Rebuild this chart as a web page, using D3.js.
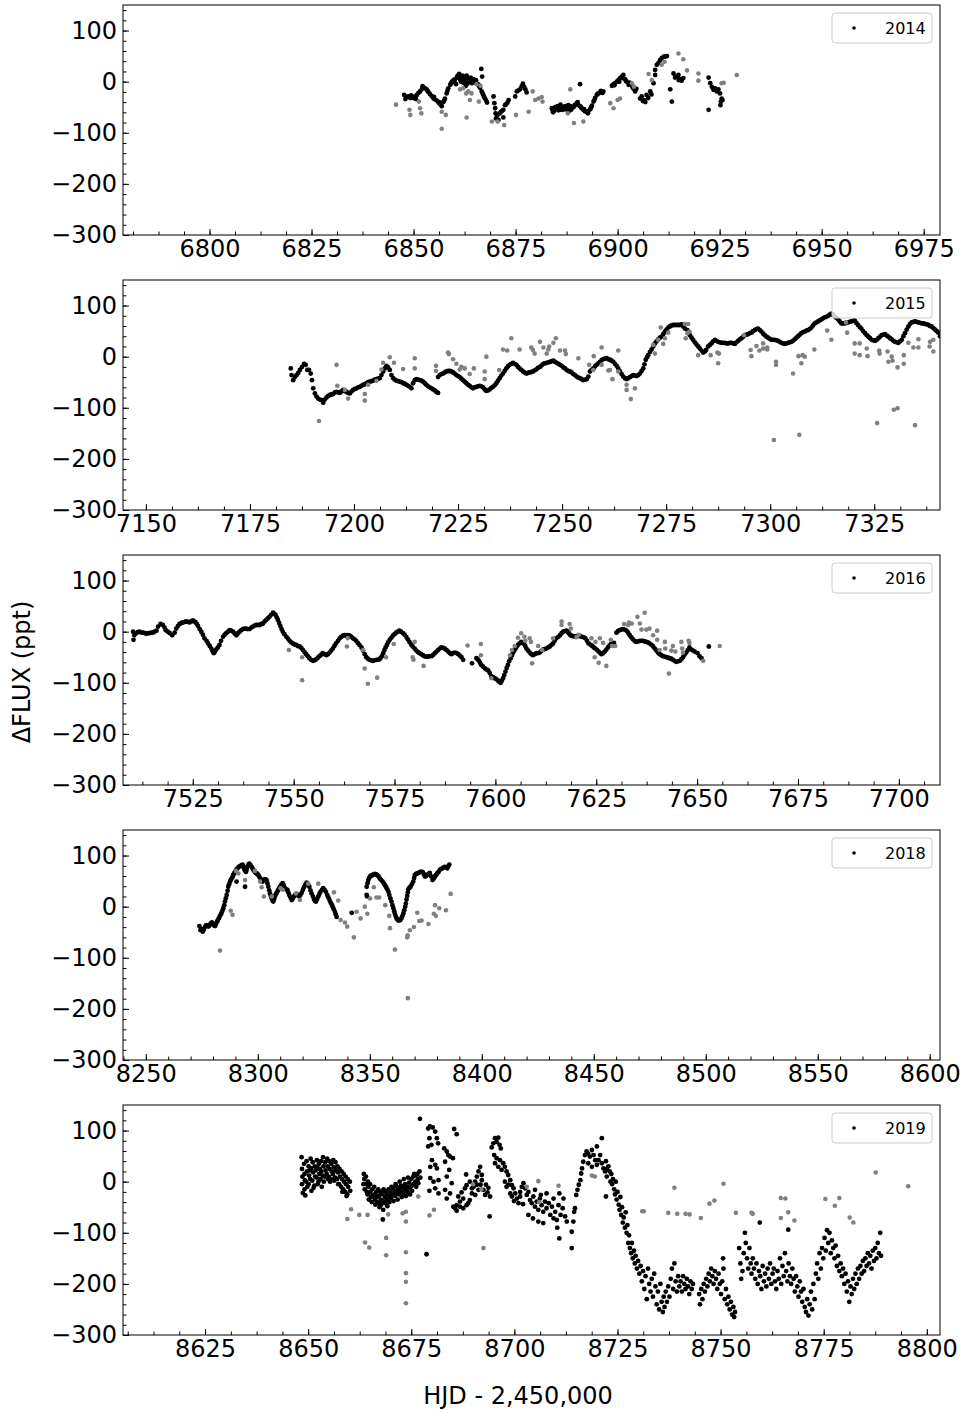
<!DOCTYPE html>
<html>
<head>
<meta charset="utf-8">
<script src="https://cdn.jsdelivr.net/npm/d3@7"></script>
<style>
  body { margin: 0; background: #fff; }
  text { font-family: "DejaVu Sans", sans-serif; }
</style>
</head>
<body>
<script>
// ---- data (HJD - 2,450,000, delta flux in ppt) ----
const years = ["2014", "2015", "2016", "2018", "2019"];
const xDomains = [[6778.8, 6979], [7144.5, 7340.8], [7507.7, 7710.2], [8239.8, 8604.6], [8605.1, 8803.2]];
const xTicks = [
  [6800, 6825, 6850, 6875, 6900, 6925, 6950, 6975],
  [7150, 7175, 7200, 7225, 7250, 7275, 7300, 7325],
  [7525, 7550, 7575, 7600, 7625, 7650, 7675, 7700],
  [8250, 8300, 8350, 8400, 8450, 8500, 8550, 8600],
  [8625, 8650, 8675, 8700, 8725, 8750, 8775, 8800]
];
const yDomain = [-300, 150];
const yTicks = [-300, -200, -100, 0, 100];

const black2014 = [[6847.7,-26],[6848.2,-30],[6848.7,-29],[6849.2,-32],[6849.6,-30],[6850,-32],[6850.4,-29],[6850.8,-26],[6851.2,-22],[6851.6,-19],[6852,-15],[6852.4,-11],[6852.8,-13],[6853.2,-15],[6853.6,-20],[6854,-24],[6854.4,-28],[6854.9,-33],[6855.3,-35],[6855.7,-37],[6856.1,-41],[6856.5,-44],[6856.9,-48],[6857.3,-40],[6857.7,-33],[6858.1,-23],[6858.5,-13],[6859,-6],[6859.4,0],[6859.8,3],[6860.2,5],[6860.6,8],[6861,10],[6861.4,4],[6861.8,7],[6862.2,-2],[6862.6,3],[6863,12],[6863.5,7],[6863.9,0],[6864.3,-3],[6864.7,5],[6865.1,-2],[6865.5,-4],[6865.9,-6],[6866.3,-12],[6866.7,-19],[6867.1,-26],[6867.5,-33],[6868,-41],
  [6848,-34],[6849.4,-27],[6850.6,-34],[6852.2,-9],[6853.4,-18],[6855,-30],[6856.3,-40],[6857.5,-37],[6858.3,-18],[6859.2,-3],[6860,0],[6860.8,12],[6861.6,0],[6862.4,8],[6863.3,2],[6864.5,-1],[6865.3,3],[6866.1,-9],[6866.9,-23],[6867.3,-30],[6867.8,-37],
  [6860.4,-5],[6861.2,15],[6862,12],[6862.8,-8],[6863.2,-4],[6864,8],[6866.6,25],[6866.8,10],
  [6869.6,-29],[6869.8,-42],[6870,-52],[6870.1,-62],[6870.2,-72],[6870.5,-66],[6870.8,-75],[6871.1,-62],[6871.4,-59],[6871.7,-57],[6872,-55],[6872,-70],[6872.4,-46],[6872.7,-44],[6873,-41],[6873.3,-36],
  [6874.9,-29],[6875.3,-19],[6875.7,-17],[6876.1,-15],[6876.5,-9],[6876.8,-4],[6877.1,-10],[6877.4,-15],[6877.7,-21],
  [6883.9,-52],[6884.2,-60],[6884.5,-57],[6884.7,-50],[6885.1,-52],[6885.5,-56],[6885.9,-55],[6886.3,-50],[6886.7,-49],[6887.1,-54],[6887.5,-52],[6887.9,-46],[6888.4,-48],[6888.8,-52],[6889.2,-50],[6889.6,-45],[6890,-42],[6890.4,-46],[6890.8,-48],[6891.2,-52],[6891.6,-55],[6892,-58],[6892.5,-59],[6892.9,-57],[6893.3,-54],[6893.7,-47],[6894.1,-39],[6894.5,-32],[6894.9,-26],[6895.3,-23],[6895.7,-21],[6896.1,-20],[6896.5,-19],[6890.8,-5],[6886,-45],[6888,-58],
  [6884,-55],[6885.3,-48],[6886.5,-55],[6887.3,-48],[6888.6,-55],[6889.4,-47],[6890.2,-40],[6891,-50],[6891.8,-54],[6892.7,-62],[6893.5,-50],[6894.3,-36],[6895.1,-24],[6895.9,-18],[6896.3,-22],
  [6898.6,-8],[6899,-5],[6899.4,-3],[6899.8,0],[6900.2,3],[6900.6,7],[6901,10],[6901.4,13],[6901.8,5],[6902.2,0],[6902.7,-6],[6903.1,-3],[6903.5,-8],[6903.9,-10],[6904.3,-19],[6904.6,-14],
  [6899.2,-7],[6900.4,0],[6901.2,7],[6902,2],[6902.9,-2],[6903.7,-12],[6904.1,-15],
  [6905.5,-33],[6905.9,-29],[6906.2,-38],[6906.5,-36],[6906.8,-40],[6907.1,-26],[6907.5,-32],[6908,-19],[6908.3,-25],
  [6908.8,-3],[6909.2,13],[6909.2,23],[6909.6,33],[6910,36],[6910.4,42],[6910.8,46],[6911.3,49],[6911.7,49],[6912.1,50],[6912.9,-15],[6913.3,-39],
  [6913.7,16],[6914.1,8],[6914.5,10],[6914.9,13],[6915.3,5],[6915.7,2],[6916.1,7],[6915,3],
  [6922.3,8],[6922.3,-55],[6922.7,-3],[6923.1,-10],[6923.5,-16],[6923.9,-13],[6924.3,-19],[6924.7,-15],[6925.1,-23],[6925.5,-33],[6925.3,-39],[6925.7,-36],[6925.2,-46]];
const gray2014 = [[6845.7,-45],[6849,-55],[6849.2,-65],[6851.6,-52],[6851.9,-62],[6851.3,-39],[6856.9,-59],[6857.9,-65],[6856.9,-92],[6863,-70],[6863.8,-36],[6864.2,-23],[6866,-39],[6861.4,-15],[6862.2,-13],[6862.9,-23],[6863.4,-19],[6865.4,-5],[6866.4,-8],[6869.2,-78],[6872.2,-85],[6870.6,-78],[6875.1,-65],[6878.2,-59],[6879.2,-19],[6879.8,-36],[6880.6,-33],[6881.4,-30],[6881.6,-39],[6888.4,-15],[6889.3,-81],[6891.6,-78],[6887.8,-62],[6898.2,-42],[6899,-52],[6900,-36],[6900.6,-33],[6903.5,-3],[6904,-10],[6907.6,15],[6908.4,3],[6911.5,39],[6910.8,33],[6914.9,55],[6916.1,44],[6917,22],[6919.8,16],[6919.8,2],[6925.5,-3],[6926,-2],[6929.2,13]];

const black2015 = [[7184.8,-23],[7185,-36],[7185.4,-46],[7185.8,-40],[7186.2,-36],[7186.6,-32],[7187,-26],[7187.5,-20],[7188,-14],[7188.4,-16],[7188.8,-26],[7189.2,-26],[7189.6,-33],[7189.9,-46],[7190.2,-62],[7190.6,-72],[7191,-78],[7191.4,-82],[7191.8,-84],[7192.2,-85],[7192.6,-90],[7193,-84],[7193.4,-80],[7193.8,-77],[7194.2,-75],[7194.6,-74],[7195,-73],[7195.4,-70],[7195.8,-69],[7196.2,-70],[7196.6,-71],[7197,-68],[7197.4,-65],[7197.8,-67],[7198.2,-69],[7198.6,-71],[7199,-72],[7199.4,-68],[7199.8,-65],[7200.2,-63],[7200.6,-62],[7201,-60],[7201.4,-59],[7201.8,-57],[7202.2,-55],[7202.6,-54],[7203,-52],[7203.4,-50],[7203.8,-49],[7204.2,-48],[7204.6,-47],[7205,-45],[7205.4,-44],[7205.8,-43],[7206.2,-42],[7206.6,-36],[7207,-29],[7207.4,-23],[7207.8,-18],[7208.2,-21],[7208.6,-26],[7209,-36],[7209.4,-42],[7209.8,-45],[7210.2,-47],[7210.6,-48],[7211,-49],[7211.4,-50],[7211.8,-52],[7212.2,-53],[7212.6,-55],[7213,-57],[7213.4,-59],[7213.8,-62],[7214.2,-52],[7214.6,-46],[7215,-44],[7215.4,-45],[7215.8,-46],[7216.2,-47],[7216.6,-49],[7217,-52],[7217.4,-55],[7217.8,-58],[7218.2,-60],[7218.6,-62],[7219,-64],[7219.4,-66],[7219.8,-69],[7220.2,-71],
  [7220.2,-40],[7220.6,-36],[7221,-34],[7221.4,-33],[7221.8,-31],[7222.2,-29],[7222.6,-28],[7223,-28],[7223.4,-29],[7223.8,-31],[7224.2,-33],[7224.6,-36],[7225,-38],[7225.4,-40],[7225.8,-43],[7226.2,-46],[7226.6,-49],[7227,-52],[7227.4,-55],[7227.8,-57],[7228.2,-60],[7228.6,-62],[7229,-60],[7229.4,-59],[7229.8,-58],[7230.2,-57],[7230.6,-58],[7231,-60],[7231.4,-64],[7231.8,-67],[7232.2,-66],[7232.6,-64],[7233,-61],[7233.4,-59],[7233.8,-56],[7234.2,-52],[7234.6,-47],[7235,-42],[7235.4,-37],[7235.8,-33],[7236.2,-28],[7236.6,-23],[7237,-19],[7237.4,-16],[7237.8,-14],[7238.2,-12],[7238.6,-14],[7239,-16],[7239.4,-20],[7239.8,-23],[7240.2,-26],[7240.6,-29],[7241,-31],[7241.4,-33],[7241.8,-32],[7242.2,-31],[7242.6,-30],[7243,-29],[7243.4,-27],[7243.8,-25],[7244.2,-22],[7244.7,-20],[7245.1,-17],[7245.5,-14],[7245.9,-13],[7246.3,-12],[7246.7,-11],[7247.1,-10],[7247.5,-9],[7247.9,-8],[7248.3,-10],[7248.7,-12],[7249.1,-14],[7249.5,-16],[7249.9,-18],[7250.3,-21],[7250.7,-23],[7251.1,-26],[7251.5,-28],[7251.9,-29],[7252.3,-31],[7252.7,-34],[7253.1,-36],[7253.5,-39],[7253.9,-41],[7254.3,-42],[7254.7,-44],[7255.1,-46],[7255.5,-45],[7255.9,-44],[7256.3,-39],[7256.7,-29],[7257.1,-26],[7257.5,-23],[7257.9,-19],[7258.3,-16],[7258.7,-13],[7259.1,-10],[7259.5,-7],[7259.9,-5],[7260.3,-4],[7260.7,-3],[7261.1,-5],[7261.5,-6],[7261.9,-8],[7262.3,-10],[7262.7,-14],[7263.1,-18],[7263.5,-23],[7263.9,-29],[7264.3,-34],[7264.7,-39],[7265.1,-42],[7265.5,-44],[7265.9,-42],[7266.3,-40],[7266.7,-38],[7267.1,-36],[7267.5,-37],[7267.9,-38],[7268.3,-36],[7268.7,-33],[7269.1,-28],[7269.5,-23],[7269.8,-15],[7270.1,-6],[7270.4,-1],[7270.7,3],[7271.1,9],[7271.5,14],[7271.9,20],[7272.3,26],[7272.7,30],[7273.1,34],[7273.5,37],[7273.9,39],[7274.3,44],[7274.7,49],[7275.1,53],[7275.5,57],[7275.9,59],[7276.3,61],[7276.7,62],[7277.1,62],[7277.5,62],[7277.9,62],[7278.3,62],[7278.7,63],[7279.1,59],[7279.5,55],[7280.1,52],[7280.4,47],[7280.7,42],[7281.1,37],[7281.5,33],[7281.9,28],[7282.3,24],[7282.7,20],[7283.1,16],[7283.5,12],[7283.9,8],[7284.3,10],[7284.6,13],[7285.1,20],[7285.5,23],[7285.9,26],[7286.3,30],[7286.7,33],[7287.1,31],[7287.5,29],[7287.9,28],[7288.3,27],[7288.7,27],[7289.1,27],[7289.5,26],[7289.9,26],[7290.3,27],[7290.7,27],[7291.1,26],[7291.5,25],[7291.9,28],[7292.3,31],[7292.7,34],[7293.1,36],[7293.5,39],[7293.9,42],[7294.3,43],[7294.7,44],[7295.1,46],[7295.5,47],[7295.9,50],[7296.3,52],[7296.7,54],[7297.1,55],[7297.5,52],[7297.9,49],[7298.3,45],[7298.7,42],[7299.1,39],[7299.5,37],[7299.9,35],[7300.3,33],[7300.7,33],[7301.1,33],[7301.5,32],[7301.9,31],[7302.3,29],[7302.7,27],[7303.1,26],[7303.5,25],[7303.9,26],[7304.3,27],[7304.7,28],[7305.1,29],[7305.5,31],[7305.9,34],[7306.3,37],[7306.7,40],[7307.1,43],[7307.5,46],[7307.9,48],[7308.3,49],[7308.7,51],[7309.1,52],[7309.5,54],[7309.9,57],[7310.3,61],[7310.7,65],[7311.1,67],[7311.5,69],[7311.9,71],[7312.3,73],[7312.7,75],[7313.1,77],[7313.5,78],[7313.9,80],[7314.3,82],[7314.7,84],[7315.1,82],[7315.5,79],[7315.9,76],[7316.3,73],[7316.7,69],[7317.1,65],[7317.5,65],[7317.9,65],[7318.3,66],[7318.7,67],[7319.1,68],[7319.5,69],[7319.9,70],[7320.3,71],[7320.7,66],[7321.1,62],[7321.5,58],[7321.9,55],[7322.3,50],[7322.8,46],[7323.2,42],[7323.6,39],[7324,36],[7324.4,33],[7324.8,32],[7325.2,31],[7325.6,33],[7326,36],[7326.4,39],[7326.8,42],[7327.2,43],[7327.6,44],[7328,41],[7328.4,39],[7328.8,36],[7329.2,34],[7329.6,31],[7330,29],[7330.4,28],[7330.8,27],[7331.2,30],[7331.6,33],[7332,40],[7332.4,46],[7332.8,53],[7333.2,59],[7333.6,64],[7334,67],[7334.4,68],[7334.8,69],[7335.2,68],[7335.6,67],[7336,66],[7336.4,65],[7336.8,65],[7337.2,64],[7337.6,63],[7338,62],[7338.4,60],[7338.8,59],[7339.2,56],[7339.6,53],[7340,50],[7340.4,47],[7340.8,40]];
const gray2015 = [[7191.6,-126],[7195.8,-16],[7196,-57],[7197.8,-65],[7198.6,-82],[7202.6,-73],[7202.6,-86],[7203.4,-55],[7205.4,-47],[7206.6,-25],[7207,-12],[7208.6,-1],[7209.6,-12],[7211.8,-24],[7214.6,-3],[7214.6,-23],[7219.7,-18],[7219.7,-28],[7222.6,8],[7222.8,5],[7223.8,-5],[7224.6,-14],[7225.4,-25],[7225.8,-20],[7226.6,-23],[7227.8,-34],[7228.8,-23],[7231.4,-29],[7231.4,-44],[7231.8,0],[7234.9,-26],[7235.8,14],[7236.8,12],[7237.8,36],[7239.8,14],[7242.6,18],[7243,13],[7243.4,6],[7244.7,29],[7245.5,18],[7246.3,6],[7246.7,14],[7246.9,20],[7247.9,27],[7248.5,36],[7249.5,12],[7250.7,12],[7250.9,5],[7253.9,-3],[7256.5,-16],[7257.6,1],[7257.5,-26],[7259.5,18],[7259.5,-16],[7261.1,-27],[7261.5,-26],[7262.1,-44],[7263.5,12],[7263.5,-29],[7265.5,-55],[7265.5,-65],[7266.5,-83],[7267.5,-62],[7271.9,23],[7272.3,6],[7273.1,33],[7273.7,57],[7274.3,25],[7274.7,36],[7275.5,47],[7279.5,64],[7280.3,64],[7279.7,36],[7280.1,46],[7280.6,49],[7282.7,3],[7285.7,3],[7287.3,8],[7287.5,-13],[7287.7,6],[7293.7,42],[7295.3,13],[7295.5,1],[7296.7,21],[7297.4,12],[7298.3,26],[7298.3,16],[7299.3,18],[7299.3,14],[7300.9,-163],[7301.4,-10],[7301.4,-16],[7305.5,-33],[7306.8,1],[7307,-153],[7307.5,-13],[7307.8,3],[7308.3,0],[7310.6,14],[7313.7,51],[7314.7,33],[7318.2,67],[7318.5,47],[7320.3,26],[7321.5,26],[7320.3,6],[7321.5,3],[7323.2,16],[7323.4,1],[7325.7,-130],[7326.2,12],[7326.3,6],[7328.2,10],[7328.4,-10],[7329.2,0],[7329.4,-8],[7329.7,-104],[7330.6,-101],[7330.6,-21],[7332.1,3],[7332.1,-14],[7333.2,27],[7334.4,18],[7334.8,-134],[7335.6,18],[7335.6,34],[7338.4,29],[7339.2,33],[7339.2,10],[7338.3,20]];

const black2016 = [[7510.2,0],[7510.3,-16],[7510.5,-7],[7511,-3],[7511.4,-1],[7511.8,0],[7512.3,-2],[7512.7,-2],[7513.1,-3],[7513.5,-4],[7513.9,-3],[7514.3,-3],[7514.7,-2],[7515.1,-2],[7515.5,0],[7516,2],[7516.4,10],[7517,15],[7517.6,13],[7518,8],[7518.3,3],[7518.8,0],[7519.3,-3],[7519.9,-7],[7520.5,-2],[7520.9,6],[7521.3,11],[7521.7,15],[7522.2,17],[7522.6,18],[7523,19],[7523.4,20],[7523.8,19],[7524.2,18],[7524.6,20],[7525,22],[7525.4,20],[7525.7,18],[7526,15],[7526.3,11],[7526.7,5],[7527.1,0],[7527.5,-6],[7527.9,-13],[7528.4,-18],[7528.8,-23],[7529.2,-28],[7529.6,-33],[7529.9,-38],[7530.2,-42],[7530.5,-39],[7530.8,-35],[7531.2,-31],[7531.6,-26],[7532,-18],[7532.5,-10],[7532.9,-6],[7533.3,-3],[7533.7,0],[7534.1,3],[7534.5,2],[7535,0],[7535.4,-4],[7535.8,-7],[7536.2,-3],[7536.6,0],[7537,3],[7537.4,5],[7537.8,6],[7538.2,6],[7538.6,5],[7539.1,5],[7539.5,8],[7539.9,10],[7540.3,12],[7540.7,13],[7541.2,13],[7541.6,13],[7542,15],[7542.4,16],[7542.8,20],[7543.2,23],[7543.6,26],[7544,29],[7544.4,33],[7544.9,37],[7545.2,35],[7545.5,33],[7545.8,28],[7546.1,23],[7546.4,17],[7546.7,11],[7547,5],[7547.3,0],[7547.7,-5],[7548.2,-10],[7548.6,-14],[7549,-18],[7549.4,-21],[7549.8,-23],[7550.2,-25],[7550.6,-26],[7551,-28],[7551.5,-29],[7551.9,-32],[7552.3,-36],[7552.7,-40],[7553.1,-44],[7553.5,-48],[7553.9,-52],[7554.3,-55],[7554.8,-57],[7555.2,-56],[7555.6,-54],[7556,-51],[7556.4,-48],[7556.8,-45],[7557.2,-42],[7557.6,-44],[7558.1,-46],[7558.5,-44],[7558.9,-41],[7559.3,-37],[7559.7,-33],[7560.1,-28],[7560.5,-23],[7561,-18],[7561.4,-13],[7561.8,-10],[7562.2,-8],[7562.6,-7],[7563,-7],[7563.5,-7],[7563.9,-8],[7564.3,-10],[7564.7,-13],[7565.1,-15],[7565.5,-18],[7565.9,-22],[7566.3,-26],[7566.8,-31],[7567.2,-37],[7567.6,-44],[7568,-50],[7568.4,-53],[7568.8,-55],[7569.2,-56],[7569.6,-57],[7570,-56],[7570.5,-55],[7570.9,-55],[7571.3,-54],[7571.6,-51],[7571.9,-48],[7572.2,-42],[7572.5,-36],[7572.8,-31],[7573.1,-26],[7573.4,-21],[7573.8,-16],[7574.2,-12],[7574.6,-8],[7575,-5],[7575.4,-2],[7575.8,0],[7576.2,2],[7576.6,0],[7577.1,-3],[7577.5,-6],[7577.9,-10],[7578.3,-15],[7578.7,-20],[7579.1,-25],[7579.5,-29],[7580,-33],[7580.4,-37],[7580.8,-40],[7581.2,-42],[7581.6,-44],[7582,-46],[7582.4,-48],[7582.8,-49],[7583.3,-49],[7583.6,-48],[7584.2,-48],[7584.6,-45],[7585,-42],[7585.4,-39],[7585.8,-36],[7586.2,-33],[7586.6,-31],[7587.1,-32],[7587.5,-33],[7587.9,-36],[7588.3,-39],[7588.7,-42],[7589.1,-44],[7589.5,-42],[7589.9,-41],[7590.4,-42],[7590.8,-44],[7591.2,-47],[7591.6,-50],[7592,-55],
  [7594.2,-62],[7595.3,-52],[7595.6,-54],[7595.9,-57],[7596.2,-61],[7596.5,-65],[7596.9,-68],[7597.4,-72],[7597.8,-74],[7598.2,-76],[7598.6,-81],[7599,-87],[7599.4,-89],[7599.8,-91],[7600.2,-93],[7600.7,-96],[7601,-98],[7601.3,-100],[7601.6,-96],[7601.9,-91],[7602.2,-85],[7602.5,-78],[7602.8,-71],[7603.1,-65],[7603.4,-58],[7603.8,-52],[7604.1,-46],[7604.4,-41],[7604.7,-37],[7605,-33],[7605.3,-29],[7605.6,-26],[7606,-23],[7606.4,-20],[7606.8,-22],[7607.1,-24],[7607.4,-28],[7607.7,-33],[7608.1,-37],[7608.5,-41],[7608.9,-44],[7609.3,-46],[7609.8,-44],[7610.2,-42],[7610.6,-42],[7611,-41],[7611.4,-38],[7611.8,-35],[7612.2,-34],[7612.6,-33],[7613.1,-31],[7613.5,-29],[7613.9,-26],[7614.3,-23],[7614.7,-18],[7615.1,-13],[7615.6,-10],[7616,-7],[7616.4,-3],[7616.8,0],[7617.2,1],[7617.6,2],[7617.9,0],[7618.2,-3],[7618.5,-6],[7618.8,-8],[7619.3,-9],[7619.8,-10],[7620.2,-9],[7620.6,-8],[7621,-9],[7621.5,-10],[7621.9,-11],[7622.3,-13],[7622.7,-18],[7623.1,-23],[7623.6,-26],[7624,-28],[7624.4,-31],[7624.8,-33],[7625.2,-36],[7625.6,-39],[7626,-42],[7626.3,-44],[7626.7,-42],[7627.1,-39],[7627.5,-35],[7627.9,-31],[7628.3,-27],[7628.7,-24],[7629.1,-23],[7629.4,-22],
  [7630,-2],[7630.4,1],[7630.8,3],[7631.2,4],[7631.6,5],[7632,4],[7632.5,2],[7632.9,-2],[7633.3,-7],[7633.7,-11],[7634.1,-15],[7634.5,-18],[7634.9,-20],[7635.4,-19],[7635.8,-18],[7636.2,-18],[7636.6,-18],[7637,-19],[7637.4,-20],[7637.8,-21],[7638.2,-23],[7638.7,-26],[7639.1,-29],[7639.5,-33],[7639.9,-37],[7640.3,-41],[7640.7,-44],[7641.1,-46],[7641.5,-48],[7642,-49],[7642.4,-50],[7642.8,-51],[7643.2,-52],[7643.6,-53],[7644,-55],[7644.4,-57],[7644.8,-59],[7645.3,-58],[7645.7,-57],[7646.1,-54],[7646.5,-50],[7646.9,-45],[7647.3,-41],[7647.7,-36],[7648.1,-31],[7648.6,-35],[7649,-37],[7649.4,-39],[7650.1,-42],[7650.6,-48],[7651.1,-52],[7652.9,-29]];
const gray2016 = [[7548.8,-36],[7552.1,-50],[7552.1,-95],[7563.2,-29],[7563.4,-13],[7567.2,-36],[7567.6,-72],[7568.4,-102],[7570.7,-90],[7572.9,-50],[7574.8,-24],[7579.5,-50],[7579.7,-55],[7580,-20],[7582.2,-67],[7593.1,-27],[7596.4,-24],[7596.4,-46],[7599,-91],[7603.6,-46],[7604.1,-36],[7604.8,-28],[7605.6,-12],[7606.4,-3],[7607.2,-10],[7607.4,-18],[7608.5,-13],[7608.8,-20],[7609.1,-62],[7610.6,-28],[7611.6,-36],[7614.3,-13],[7616.4,20],[7616.4,13],[7618.4,15],[7618.7,6],[7620.1,-11],[7620.7,-6],[7623.8,-13],[7624.6,-50],[7624.8,-20],[7625.6,-61],[7625.9,-13],[7626.7,-22],[7627.5,-67],[7628.6,-16],[7628.9,-28],[7629.7,-28],[7631.9,15],[7632.9,13],[7633.1,18],[7633.8,16],[7635.2,29],[7635.8,16],[7636.2,4],[7637,37],[7637.4,4],[7638.2,6],[7639.1,-7],[7640.1,2],[7640.1,-16],[7640.7,-36],[7642,-20],[7642.1,-33],[7643,-82],[7643.6,-37],[7644,-28],[7644.6,-39],[7646.1,-20],[7646.3,-33],[7646.5,-41],[7647.9,-18],[7648.1,-22],[7651.5,-57],[7655.6,-28]];

const black2018 = [[8273.9,-38],[8274.4,-46],[8275.4,-49],[8276.4,-40],[8277.1,-36],[8277.9,-39],[8278.9,-33],[8280.1,-34],[8280.9,-38],[8281.6,-31],[8282.3,-25],[8283.1,-18],[8283.8,-12],[8284.6,-3],[8285.3,10],[8286.1,23],[8286.8,39],[8287.6,49],[8288.3,55],[8289,62],[8289.8,68],[8290.5,73],[8291.3,77],[8292.3,80],[8293.2,82],[8293.8,75],[8294.7,68],[8295.3,78],[8296.2,84],[8297.2,78],[8298,72],[8298.7,68],[8299.5,65],[8300.2,62],[8301.2,55],[8302.1,49],[8303.2,54],[8303.9,52],[8304.7,39],[8305.4,26],[8306.2,16],[8306.9,10],[8307.6,20],[8308.4,27],[8309.1,33],[8309.9,39],[8311.1,46],[8312.1,36],[8313.2,33],[8314,23],[8315.1,13],[8316.1,20],[8317.3,25],[8318.5,20],[8319.6,27],[8320.6,38],[8321.8,47],[8323,39],[8324,26],[8325.1,14],[8326,10],[8327,20],[8328,29],[8329.2,36],[8330.4,29],[8331.5,18],[8332.5,8],[8333.4,0],[8334.4,-10],[8335.2,-20],[8290.5,49],[8294.3,39],[8341.9,-12],
  [8274.9,-44],[8275.9,-45],[8276.8,-37],[8278.4,-37],[8279.5,-31],[8280.5,-37],[8281.2,-35],[8282,-28],[8282.7,-22],[8283.5,-15],[8284.2,-8],[8285,3],[8285.7,16],[8286.5,31],[8287.2,44],[8287.9,52],[8288.7,58],[8289.4,65],[8290.1,70],[8290.9,75],[8291.8,79],[8292.8,81],[8293.5,79],[8294.2,71],[8295,72],[8295.8,82],[8296.7,81],[8297.6,75],[8298.4,70],[8299.1,66],[8299.9,63],[8300.7,58],[8301.7,52],[8302.6,51],[8303.6,53],[8304.3,46],[8305.1,32],[8305.8,21],[8306.6,12],[8307.3,15],[8308,24],[8308.8,30],[8309.5,36],[8310.5,43],[8311.6,41],[8312.7,34],[8313.6,28],[8314.6,18],[8315.6,16],[8316.7,23],[8317.9,22],[8319,23],[8320.1,33],[8321.2,43],[8322.4,43],[8323.5,32],[8324.6,20],[8325.6,11],[8326.5,15],[8327.5,25],[8328.6,33],[8329.8,33],[8331,23],[8332,13],[8333,4],[8333.9,-5],[8334.8,-15],
  [8348.6,23],[8348.6,39],[8348.8,20],[8349.3,52],[8350.1,59],[8351.3,62],[8352.3,64],[8353.3,62],[8354.5,55],[8355.7,49],[8356.8,42],[8357.8,34],[8358.7,23],[8359.7,10],[8360.5,-3],[8361.2,-14],[8362,-23],[8362.7,-27],[8363.7,-26],[8364.6,-18],[8365.4,-7],[8366.1,6],[8366.7,21],[8367.2,34],[8368.2,39],[8369.4,49],[8370.1,62],[8371.2,65],[8372.4,68],[8373.6,68],[8374.6,59],[8375.6,62],[8376.8,66],[8378,52],[8379.1,59],[8380.1,65],[8381.3,72],[8382.5,75],[8383.5,78],[8384.6,75],[8385.5,82],
  [8349,46],[8349.7,56],[8350.7,61],[8351.8,63],[8352.8,63],[8353.9,59],[8355.1,52],[8356.3,45],[8357.3,38],[8358.3,29],[8359.2,16],[8360.1,3],[8360.9,-9],[8361.6,-19],[8362.4,-25],[8363.2,-27],[8364.2,-22],[8365,-13],[8365.8,0],[8366.4,14],[8367,28],[8367.7,37],[8368.8,44],[8369.8,56],[8370.7,64],[8371.8,66],[8373,68],[8374.1,64],[8375.1,60],[8376.2,64],[8377.4,59],[8378.6,55],[8379.6,62],[8380.7,68],[8381.9,74],[8383,77],[8384,77],[8385,79]];
const gray2018 = [[8283.1,-86],[8287.9,-8],[8288.7,-16],[8290.2,70],[8291.3,65],[8294.3,52],[8298.7,70],[8301,49],[8301.7,38],[8302.7,20],[8306.2,20],[8310.2,36],[8311.1,33],[8317,26],[8318.8,13],[8322.5,45],[8327,45],[8334,28],[8335.9,12],[8337,-26],[8338.9,-31],[8339.9,-39],[8342.9,-60],[8344.1,-10],[8345.9,-23],[8347.8,0],[8348.9,-14],[8350.1,16],[8351.8,38],[8353,18],[8354.2,18],[8356.9,3],[8358.7,-18],[8359,-42],[8361.2,-84],[8366.7,-60],[8366.9,-56],[8367,-179],[8367.9,-46],[8369.7,-40],[8371.2,-12],[8372.1,-28],[8373.1,-27],[8376.2,-34],[8378.6,-14],[8379.1,3],[8379.5,-18],[8381,-3],[8384,-7],[8386.1,25]];

const black2019 = [[8648.4,48],[8648.5,25],[8648.6,10],[8648.5,-5],[8648.7,-22],[8649,35],[8649.1,15],[8649.2,3],[8649.1,-15],[8649.3,-27],[8649.6,40],[8649.7,20],[8649.5,0],[8649.8,-10],[8650.1,30],[8650.2,12],[8650.1,-5],[8650.3,22],[8650.6,45],[8650.7,26],[8650.5,5],[8650.8,-18],[8651.1,38],[8651.2,18],[8651,2],[8651.3,-12],[8651.6,30],[8651.7,10],[8651.5,-8],[8651.8,22],[8652.1,42],[8652.2,28],[8652,8],[8652.3,-5],[8652.6,35],[8652.7,15],[8652.5,0],[8652.8,25],[8653.1,40],[8653.2,20],[8653,5],[8653.3,-10],[8653.6,48],[8653.7,30],[8653.5,12],[8653.8,0],[8654.1,38],[8654.2,22],[8654,10],[8654.6,45],[8654.7,30],[8654.5,15],[8654.8,5],[8655.1,40],[8655.2,25],[8655,10],[8655.3,0],[8655.6,35],[8655.7,20],[8655.5,5],[8656.1,42],[8656.2,28],[8656,15],[8656.3,2],[8656.6,38],[8656.7,22],[8656.5,8],[8657.1,30],[8657.2,18],[8657,5],[8657.3,-5],[8657.6,25],[8657.7,10],[8657.5,-5],[8658.1,20],[8658.2,5],[8658,-10],[8658.3,-20],[8658.6,15],[8658.7,0],[8658.5,-15],[8659.1,10],[8659.2,-5],[8659,-20],[8659.3,-28],[8659.6,5],[8659.7,-10],[8659.5,-25],[8660.1,0],[8660.2,-18],
  [8663.5,15],[8663.6,5],[8663.4,-5],[8663.7,-15],[8664,10],[8664.1,-5],[8664.2,-20],[8664.5,0],[8664.6,-10],[8664.4,-25],[8664.7,-35],[8665,-5],[8665.1,-20],[8665.2,-30],[8665.5,-15],[8665.6,-28],[8665.4,-40],[8666,-10],[8666.1,-25],[8666.2,-35],[8666.3,-45],[8666.5,-20],[8666.6,-30],[8666.7,-40],[8667,-15],[8667.1,-28],[8667.2,-42],[8667.3,-50],[8667.5,-20],[8667.6,-35],[8667.7,-45],[8668,-25],[8668.1,-38],[8668.2,-55],[8668.3,-15],[8668.5,-18],[8668.6,-30],[8668.7,-42],[8669,-22],[8669.1,-35],[8669.2,-48],[8669.5,-15],[8669.6,-28],[8669.7,-40],[8670,-20],[8670.1,-32],[8670.2,-10],[8670.5,-12],[8670.6,-25],[8670.7,-38],[8671,-18],[8671.1,-28],[8671.2,-5],[8671.5,-10],[8671.6,-22],[8671.7,-35],[8672,-15],[8672.1,-25],[8672.2,0],[8672.5,-8],[8672.6,-20],[8672.7,-30],[8673,-12],[8673.1,-22],[8673.2,5],[8673.5,-5],[8673.6,-15],[8673.7,-28],[8674,-10],[8674.1,-20],[8674.2,8],[8674.5,-2],[8674.6,-12],[8674.7,-25],[8675,5],[8675.1,-8],[8675.2,-18],[8675.5,10],[8675.6,-5],[8675.7,15],[8676,0],[8676.1,12],[8676.2,-10],[8676.5,15],[8676.6,5],[8676.7,-3],[8677,20],[8677.2,8],[8677.1,123],[8668.1,-74],[8678.7,-142],
  [8679.1,104],[8679.5,108],[8680.2,106],[8680.8,98],[8681.2,85],[8679.4,85],[8679.1,69],[8679.9,72],[8681.5,75],[8679.6,29],[8680,42],[8680.8,33],[8681.2,26],[8679.6,7],[8680.4,0],[8680.8,-13],[8681.6,3],[8681.6,-23],[8679.4,-18],[8683,65],[8683.6,59],[8684,52],[8684.4,49],[8685.1,46],[8683.2,39],[8683.6,10],[8684.2,23],[8683.2,-16],[8683.6,-33],[8684.4,-23],[8684.8,-3],[8685.4,103],[8686,93],
  [8685.6,-52],[8686,-46],[8686.8,-39],[8687.6,-33],[8686.4,-29],[8687.2,-21],[8688,-13],[8688.4,-46],[8689.2,-36],[8689.7,-23],[8690.1,-10],[8690.5,0],[8690.9,10],[8691.3,20],[8691.7,29],[8692.1,13],[8691.8,-6],[8692.5,-16],[8692.9,-26],[8693.5,-21],[8694,-68],[8694.1,-29],[8688.3,14],[8688.4,-7],[8686.8,-49],[8687.6,-52],[8688.8,-42],[8690.5,-26],[8691.3,-16],[8689.7,-13],[8685.2,-49],[8686,-57],[8689.2,0],[8690.9,-6],[8692.1,3],[8693.1,-6],[8693.7,-12],
  [8694.5,67],[8694.9,75],[8695.3,85],[8695.7,78],[8696.1,86],[8696.4,72],[8696.7,65],[8695.1,52],[8695.7,46],[8696.5,42],[8697.3,36],[8697.7,29],[8695.3,36],[8696.1,29],[8696.9,23],[8698.1,20],[8698.5,13],[8699,3],[8699.4,-7],[8698.1,-10],[8699.8,-13],[8700.2,-23],[8700.6,-33],[8701,-42],[8701.4,-20],[8701.8,-10],[8702.2,-3],[8699,-23],[8699.9,-38],[8701.4,-29],[8702.1,-44],[8698.5,-6],[8697.7,0],[8699.4,-29],
  [8702.6,-13],[8703,-26],[8703.4,-20],[8703.8,-36],[8704.2,-42],[8704.6,-29],[8705,-49],[8705.4,-39],[8705.8,-55],[8706.2,-33],[8706.6,-46],[8707,-59],[8707.4,-39],[8707.8,-52],[8708.3,-42],[8708.7,-65],[8709.1,-49],[8709.5,-33],[8709.9,-59],[8710.3,-75],[8710.7,-46],[8710.9,-23],[8711.2,-65],[8711.7,-52],[8712.3,-68],[8712.7,-78],[8710.9,-111],[8710.4,-90],[8704.5,-72],[8705.8,-78],[8707,-81],[8703.4,-65],[8709.5,-72],[8711.9,-33],[8707.8,-23],[8706.4,-26],[8705,-16],[8713.9,-130],[8713.9,-98],[8714.3,-78],[8714.5,-59],[8714.7,-52],[8715,-26],[8715.3,-16],[8715.6,-6],[8716,3],[8716.2,16],[8716.4,26],[8716.7,39],[8717.1,52],[8717.5,59],[8717.9,55],[8718.3,49],[8718.8,62],[8719.2,52],[8719.6,42],[8720,33],[8720.4,42],[8720.8,52],[8721.2,36],[8721.6,26],[8722,20],[8722.4,10],[8722.2,-29],[8721.2,85],[8720,69],[8717.9,36],[8718.8,29],
  [8722.2,40],[8722.4,25],[8722.8,30],[8723.1,20],[8723.3,0],[8723.5,15],[8723.7,-5],[8723.9,5],[8724.2,-15],[8724.4,-25],[8724.6,0],[8724.8,-35],[8725,-20],[8725.3,-45],[8725.5,-55],[8725.7,-30],[8725.9,-65],[8726.1,-50],[8726.3,-80],[8726.5,-70],[8726.8,-90],[8727,-60],[8727.2,-100],[8727.4,-85],[8727.6,-120],[8727.8,-105],[8728,-130],[8728.3,-140],[8728.5,-120],[8728.7,-150],[8729,-135],[8729.2,-160],[8729.4,-145],[8729.7,-170],[8730,-155],[8730.3,-180],[8730.6,-165],[8730.9,-195],[8731.2,-175],[8731.5,-210],[8731.8,-185],[8732.1,-230],[8732.4,-170],[8732.7,-200],[8733,-215],[8733.3,-190],[8733.6,-225],[8733.9,-180],[8734.2,-205],[8734.5,-240],[8734.8,-215],[8735.1,-250],[8735.4,-200],[8735.7,-235],[8736,-255],[8736.2,-225],[8736.4,-245],[8736.7,-215],[8737,-235],[8737.3,-205],[8737.6,-225],[8737.9,-190],[8738.2,-170],[8738.5,-210],[8738.8,-160],[8739.1,-195],[8739.4,-215],[8739.7,-185],[8740,-205],[8740.3,-195],[8740.6,-215],[8740.9,-185],[8741.2,-200],[8741.5,-210],[8741.8,-190],[8742.1,-205],[8742.4,-220],[8742.7,-195],[8743,-210],[8743.3,-200],
  [8744.8,-220],[8745,-240],[8745.3,-210],[8745.6,-230],[8745.9,-200],[8746.2,-215],[8746.5,-190],[8746.8,-205],[8747.1,-180],[8747.4,-195],[8747.7,-170],[8748,-185],[8748.3,-200],[8748.6,-175],[8748.9,-190],[8749.2,-210],[8749.5,-180],[8749.8,-200],[8750.1,-220],[8750.4,-195],[8750.7,-170],[8750.6,-150],[8751,-230],[8751.3,-210],[8751.6,-240],[8751.9,-225],[8752.2,-250],[8752.5,-235],[8752.8,-260],[8753.1,-245],[8753.3,-265],[8753.5,-255],
  [8754.5,-130],[8754.8,-160],[8755,-190],[8755.3,-175],[8755.6,-140],[8755.9,-100],[8756.1,-120],[8756.4,-150],[8756.7,-170],[8757,-130],[8757.3,-160],[8757.5,-180],[8757.8,-150],[8758.1,-170],[8758.4,-190],[8758.7,-160],[8759,-200],[8759.3,-175],[8759.5,-80],[8759.6,-185],[8759.9,-210],[8760.2,-165],[8760.5,-195],[8760.8,-180],[8761.1,-205],[8761.4,-170],[8761.7,-190],[8762,-160],[8762.3,-200],[8762.6,-180],[8762.9,-170],[8763.2,-195],[8763.5,-210],[8763.8,-175],[8764.1,-190],[8764.4,-150],[8764.7,-200],[8765,-165],[8765.3,-185],[8765.6,-140],[8765.9,-175],[8766.2,-195],[8766.4,-94],[8766.5,-160],[8766.8,-185],[8767.1,-200],[8767.4,-170],[8767.7,-190],[8768,-215],[8768.3,-185],[8768.6,-205],[8768.9,-225],[8769.2,-195],[8769.5,-215],[8769.8,-235],[8770.1,-210],[8770.4,-245],[8770.7,-255],[8771,-230],[8771.3,-262],[8771.6,-240],[8771.9,-215],[8772.2,-250],[8772.5,-200],[8772.8,-230],[8773.1,-180],[8773.4,-160],[8773.7,-190],[8774,-140],[8774.3,-170],[8774.6,-130],[8774.9,-150],[8775.2,-110],[8775.5,-135],[8775.8,-95],[8776.1,-120],[8776.4,-100],[8776.7,-140],[8777,-115],[8777.3,-130],[8777.6,-150],[8777.9,-125],[8778.2,-165],[8778.5,-145],[8778.8,-175],[8779.1,-160],[8779.4,-185],[8779.7,-170],[8780,-200],[8780.3,-180],[8780.6,-215],[8780.9,-195],[8781.2,-235],[8781.5,-205],[8781.8,-220],[8782.1,-190],[8782.4,-210],[8782.7,-180],[8783,-200],[8783.3,-170],[8783.6,-190],[8783.9,-165],[8784.2,-180],[8784.5,-155],[8784.8,-175],[8785.1,-150],[8785.4,-165],[8785.7,-140],[8786,-160],[8786.3,-145],[8786.6,-170],[8786.9,-135],[8787.2,-155],[8787.5,-130],[8787.8,-150],[8788.1,-120],[8788.4,-140],[8788.7,-100],[8788.9,-145]];
const gray2019 = [[8659.5,-73],[8660.4,-54],[8662.4,-65],[8664.4,-65],[8663.8,-119],[8664.8,-129],[8668.9,-110],[8668.9,-144],[8669.4,-64],[8672.9,-62],[8673.7,-59],[8673.7,-78],[8673.7,-138],[8673.7,-179],[8673.7,-196],[8673.7,-238],[8676.7,-29],[8679.4,-66],[8680.5,-55],[8690,-5],[8692,-15],[8692.5,-130],[8703,-10],[8705.8,1],[8706,-40],[8710.7,-8],[8718.8,12],[8719.5,10],[8731,-58],[8731.4,-58],[8738.8,-12],[8737.3,-61],[8739.5,-63],[8741.5,-63],[8742.5,-64],[8745.2,-71],[8747.3,-43],[8748.5,-37],[8750.7,-4],[8753.7,-61],[8757.5,-61],[8757.8,-63],[8764.6,-32],[8765.7,-33],[8766.4,-60],[8764.6,-71],[8767.9,-76],[8775.4,-34],[8777.7,-47],[8778.8,-32],[8781.3,-70],[8782.2,-80],[8787.6,18],[8795.5,-9]];

const blackSeries = [black2014, black2015, black2016, black2018, black2019];
const graySeries = [gray2014, gray2015, gray2016, gray2018, gray2019];

// ---- layout ----
const width = 966, height = 1413;
const left = 123, right = 940, panelH = 230;
const panelTops = [5, 280, 555, 830, 1105];
const minus = s => s.replace("-", "\u2212");

const svg = d3.select("body").append("svg")
  .attr("width", width)
  .attr("height", height);

years.forEach((yr, i) => {
  const top = panelTops[i];
  const x = d3.scaleLinear().domain(xDomains[i]).range([left, right]);
  const y = d3.scaleLinear().domain(yDomain).range([top + panelH, top]);
  const g = svg.append("g");

  // clip the points to the axes box
  svg.append("clipPath").attr("id", "clip" + i)
    .append("rect")
    .attr("x", left).attr("y", top)
    .attr("width", right - left).attr("height", panelH);

  const pts = g.append("g").attr("clip-path", `url(#clip${i})`);
  pts.selectAll("circle.b")
    .data(blackSeries[i])
    .enter().append("circle")
    .attr("class", "b")
    .attr("cx", d => x(d[0]))
    .attr("cy", d => y(d[1]))
    .attr("r", 2.4)
    .attr("fill", "#000");
  pts.selectAll("circle.g")
    .data(graySeries[i])
    .enter().append("circle")
    .attr("class", "g")
    .attr("cx", d => x(d[0]))
    .attr("cy", d => y(d[1]))
    .attr("r", 2.3)
    .attr("fill", "#808080");

  // minor ticks (matplotlib auto-minor style)
  const step = xTicks[i][1] - xTicks[i][0];
  const xMinorStep = step === 50 ? 10 : step / 4;
  const xMinor = d3.range(xTicks[i][0] - 4 * step, xDomains[i][1], xMinorStep)
    .filter(v => v >= xDomains[i][0] && v <= xDomains[i][1]);
  const yMinor = d3.range(-300, 150, 20);

  const xMinorAxis = d3.axisBottom(x).tickValues(xMinor).tickSize(-3.5).tickFormat("");
  const yMinorAxis = d3.axisLeft(y).tickValues(yMinor).tickSize(-3.5).tickFormat("");
  g.append("g").attr("transform", `translate(0,${top + panelH})`).call(xMinorAxis);
  g.append("g").attr("transform", `translate(${left},0)`).call(yMinorAxis);

  const xAxis = d3.axisBottom(x).tickValues(xTicks[i]).tickSize(-6).tickPadding(5)
    .tickFormat(d3.format("d"));
  const yAxis = d3.axisLeft(y).tickValues(yTicks).tickSize(-6).tickPadding(6)
    .tickFormat(d => minus(String(d)));
  g.append("g").attr("class", "xaxis").attr("transform", `translate(0,${top + panelH})`).call(xAxis);
  g.append("g").attr("class", "yaxis").attr("transform", `translate(${left},0)`).call(yAxis);

  g.selectAll(".domain").remove();
  g.selectAll(".tick line").attr("stroke", "#000").attr("stroke-width", 1);
  g.selectAll(".tick text")
    .attr("fill", "#000")
    .style("font-size", "24px")
    .style("font-family", "'DejaVu Sans', sans-serif");

  // spines
  g.append("rect")
    .attr("x", left).attr("y", top)
    .attr("width", right - left).attr("height", panelH)
    .attr("fill", "none")
    .attr("stroke", "#000")
    .attr("stroke-width", 1);

  // legend
  const lg = g.append("g").attr("transform", `translate(${right - 108},${top + 8})`);
  lg.append("rect")
    .attr("width", 100).attr("height", 30)
    .attr("rx", 3).attr("ry", 3)
    .attr("fill", "#fff").attr("fill-opacity", 0.8)
    .attr("stroke", "#cccccc").attr("stroke-width", 1);
  lg.append("circle").attr("cx", 22).attr("cy", 15).attr("r", 1.8).attr("fill", "#000");
  lg.append("text")
    .attr("x", 53).attr("y", 15).attr("dy", "0.36em")
    .style("font-size", "16px")
    .attr("fill", "#000")
    .text(yr);
});

// axis titles
svg.append("text")
  .attr("transform", "translate(30,672) rotate(-90)")
  .attr("text-anchor", "middle")
  .style("font-size", "24px")
  .attr("fill", "#000")
  .text("\u0394FLUX (ppt)");

svg.append("text")
  .attr("x", 518).attr("y", 1404)
  .attr("text-anchor", "middle")
  .style("font-size", "24px")
  .attr("fill", "#000")
  .text("HJD - 2,450,000");
</script>
</body>
</html>
